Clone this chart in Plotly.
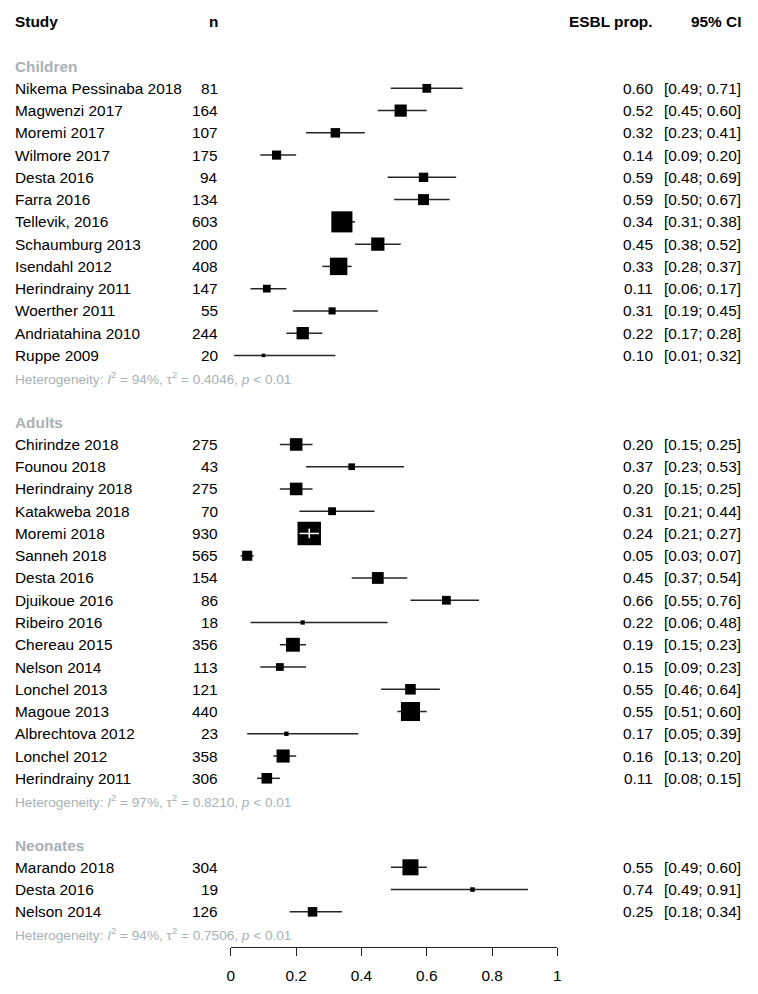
import plotly.graph_objects as go
import math

# ---------------- data ----------------
group_names = ["Children", "Adults", "Neonates"]

children_studies = ["Nikema Pessinaba 2018", "Magwenzi 2017", "Moremi 2017", "Wilmore 2017",
                    "Desta 2016", "Farra 2016", "Tellevik, 2016", "Schaumburg 2013",
                    "Isendahl 2012", "Herindrainy 2011", "Woerther 2011", "Andriatahina 2010",
                    "Ruppe 2009"]
children_n = [81, 164, 107, 175, 94, 134, 603, 200, 408, 147, 55, 244, 20]
children_prop = [0.60, 0.52, 0.32, 0.14, 0.59, 0.59, 0.34, 0.45, 0.33, 0.11, 0.31, 0.22, 0.10]
children_lo = [0.49, 0.45, 0.23, 0.09, 0.48, 0.50, 0.31, 0.38, 0.28, 0.06, 0.19, 0.17, 0.01]
children_hi = [0.71, 0.60, 0.41, 0.20, 0.69, 0.67, 0.38, 0.52, 0.37, 0.17, 0.45, 0.28, 0.32]

adults_studies = ["Chirindze 2018", "Founou 2018", "Herindrainy 2018", "Katakweba 2018",
                  "Moremi 2018", "Sanneh 2018", "Desta 2016", "Djuikoue 2016", "Ribeiro 2016",
                  "Chereau 2015", "Nelson 2014", "Lonchel 2013", "Magoue 2013",
                  "Albrechtova 2012", "Lonchel 2012", "Herindrainy 2011"]
adults_n = [275, 43, 275, 70, 930, 565, 154, 86, 18, 356, 113, 121, 440, 23, 358, 306]
adults_prop = [0.20, 0.37, 0.20, 0.31, 0.24, 0.05, 0.45, 0.66, 0.22, 0.19, 0.15, 0.55, 0.55, 0.17, 0.16, 0.11]
adults_lo = [0.15, 0.23, 0.15, 0.21, 0.21, 0.03, 0.37, 0.55, 0.06, 0.15, 0.09, 0.46, 0.51, 0.05, 0.13, 0.08]
adults_hi = [0.25, 0.53, 0.25, 0.44, 0.27, 0.07, 0.54, 0.76, 0.48, 0.23, 0.23, 0.64, 0.60, 0.39, 0.20, 0.15]

neonates_studies = ["Marando 2018", "Desta 2016", "Nelson 2014"]
neonates_n = [304, 19, 126]
neonates_prop = [0.55, 0.74, 0.25]
neonates_lo = [0.49, 0.49, 0.18]
neonates_hi = [0.60, 0.91, 0.34]

het_I2 = ["94%", "97%", "94%"]
het_tau2 = ["0.4046", "0.8210", "0.7506"]
het_p = ["0.01", "0.01", "0.01"]

x_ticks = [0, 0.2, 0.4, 0.6, 0.8, 1]
x_ticklabels = ["0", "0.2", "0.4", "0.6", "0.8", "1"]

groups = [
    (children_studies, children_n, children_prop, children_lo, children_hi),
    (adults_studies, adults_n, adults_prop, adults_lo, adults_hi),
    (neonates_studies, neonates_n, neonates_prop, neonates_lo, neonates_hi),
]

# ---------------- layout constants ----------------
W, H = 758, 994
FONT = "Liberation Sans, Arial, Helvetica, sans-serif"
GREY = "#a8b2b5"
ROW_PX = 22.25
ROW0_PX = 21.55
AXIS_PX = 946.7
X0_PX, X1_PX = 229.3, 559.3
PX_PER_UNIT = X1_PX - X0_PX
LEFT_X = 9
N_X = 218
EST_X = 658
CI_X = 747

annotations = []

def txt(text, xpx, row, anchor="left", size=15.4, color="black", bold=False):
    if bold:
        text = "<b>" + text + "</b>"
    annotations.append(dict(
        x=xpx / W, xref="paper", y=row, yref="y", text=text, showarrow=False,
        xanchor=anchor, yanchor="middle",
        font=dict(family=FONT, size=size, color=color),
    ))

# headers
txt("Study", LEFT_X, 0, bold=True)
txt("n", N_X, 0, anchor="right", bold=True)
txt("ESBL prop.", EST_X, 0, anchor="right", bold=True)
txt("95% CI", CI_X, 0, anchor="right", bold=True)

ci_x, ci_y = [], []
mk_x, mk_y, mk_s = [], [], []
wl_x, wl_y, wc_x, wc_y = [], [], [], []

row = 2
for gi, (studies, ns, props, los, his) in enumerate(groups):
    txt(group_names[gi], LEFT_X, row, color=GREY, bold=True)
    row += 1
    for s, n, p, lo, hi in zip(studies, ns, props, los, his):
        txt(s, LEFT_X, row)
        txt(str(n), N_X, row, anchor="right")
        txt(f"{p:.2f}", EST_X, row, anchor="right")
        txt(f"[{lo:.2f}; {hi:.2f}]", CI_X, row, anchor="right")
        ci_x += [lo, hi, None]
        ci_y += [row, row, None]
        size = 1.7 * math.sqrt(n * p * (1 - p)) + 1.3
        mk_x.append(p)
        mk_y.append(row)
        mk_s.append(size)
        if (hi - lo) * PX_PER_UNIT < size:
            wl_x += [lo, hi, None]
            wl_y += [row, row, None]
            wc_x.append(p)
            wc_y.append(row)
        row += 1
    het = (f"Heterogeneity: <i>I</i><sup>2</sup> = {het_I2[gi]}, "
           f"τ<sup>2</sup> = {het_tau2[gi]}, <i>p</i> &lt; {het_p[gi]}")
    txt(het, LEFT_X, row, size=13.6, color=GREY)
    row += 2

fig = go.Figure()
fig.add_trace(go.Scatter(x=ci_x, y=ci_y, mode="lines", line=dict(color="#262626", width=1.5),
                         hoverinfo="skip", cliponaxis=False))
fig.add_trace(go.Scatter(x=mk_x, y=mk_y, mode="markers",
                         marker=dict(symbol="square", size=mk_s, color="black", opacity=1,
                                     line=dict(width=0)),
                         cliponaxis=False))
if wl_x:
    fig.add_trace(go.Scatter(x=wl_x, y=wl_y, mode="lines", line=dict(color="white", width=1.5),
                             hoverinfo="skip", cliponaxis=False))
    fig.add_trace(go.Scatter(x=wc_x, y=wc_y, mode="markers",
                             marker=dict(symbol="line-ns", size=7, opacity=1,
                                         line=dict(color="white", width=1.5)),
                             hoverinfo="skip", cliponaxis=False))

top_r = -ROW0_PX / ROW_PX
bot_r = (AXIS_PX - ROW0_PX) / ROW_PX

fig.update_layout(
    width=W, height=H,
    margin=dict(l=0, r=0, t=0, b=H - AXIS_PX),
    paper_bgcolor="white", plot_bgcolor="white",
    showlegend=False,
    annotations=annotations,
    xaxis=dict(domain=[X0_PX / W, X1_PX / W], range=[0, 1], showgrid=False, zeroline=False,
               showline=True, linecolor="#222", linewidth=1.3,
               ticks="outside", ticklen=8, tickwidth=1.3, tickcolor="#222",
               ticklabelstandoff=6,
               tickvals=x_ticks, ticktext=x_ticklabels,
               tickfont=dict(family=FONT, size=15.4, color="black"), fixedrange=True),
    yaxis=dict(domain=[0, 1], range=[bot_r, top_r], visible=False, fixedrange=True),
)

fig.write_html("out.html", config={"displayModeBar": False},
               post_script="document.body.style.margin='0';document.body.style.overflow='hidden';")
